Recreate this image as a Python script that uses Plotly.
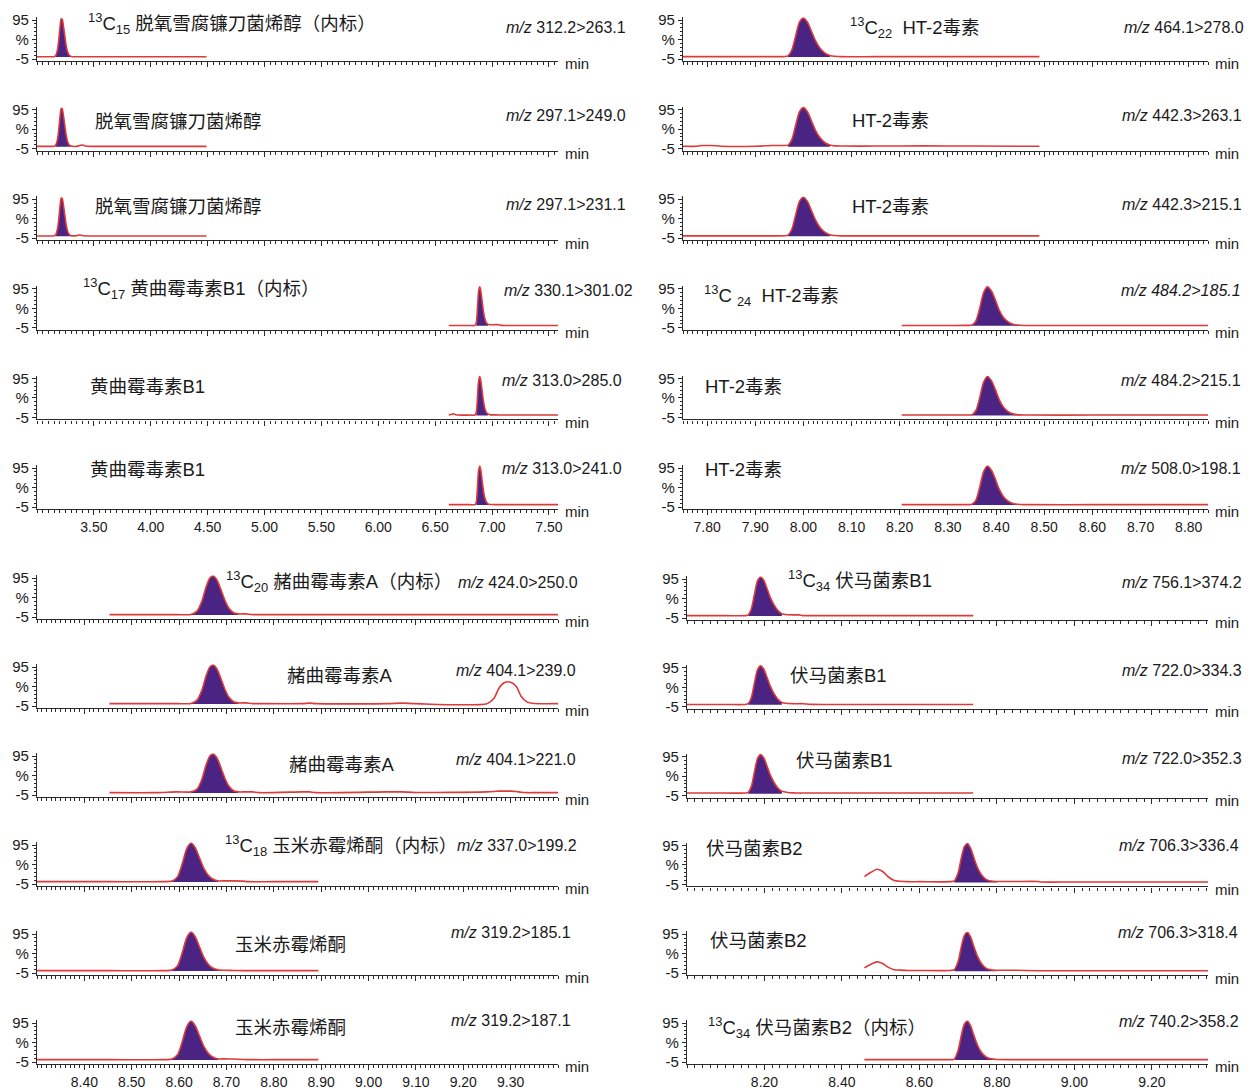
import plotly.graph_objects as go

# ======================= DATA =======================
# --- top-left, rows 1-3: DON ---
don_t = [3.00, 3.12, 3.15, 3.165, 3.18, 3.192, 3.203, 3.213, 3.222, 3.232, 3.244, 3.256, 3.268, 3.282, 3.30,
         3.35, 3.37, 3.39, 3.41, 3.43, 3.47, 3.80, 4.20, 4.49]
don_r1 = [0.8, 0.8, 1.0, 4, 18, 45, 78, 98, 97, 80, 55, 30, 14, 5, 1.5,
          0.8, 0.8, 0.8, 0.8, 0.8, 0.8, 0.8, 0.8, 0.8]
don_r2 = [0.8, 0.8, 1.0, 4, 18, 45, 78, 98, 97, 80, 55, 30, 14, 5, 1.5,
          0.8, 2.5, 4.0, 3.5, 1.5, 0.8, 0.8, 0.8, 0.8]
don_r3 = [0.8, 0.8, 1.0, 4, 18, 45, 78, 98, 97, 80, 55, 30, 14, 5, 1.5,
          1.5, 3.0, 2.5, 1.2, 0.8, 0.8, 0.8, 0.8, 0.8]
don_fill = [3.165, 3.30]

# --- top-left, rows 4-6: AFB1 ---
afb_t = [6.62, 6.64, 6.66, 6.68, 6.70, 6.80, 6.85, 6.862, 6.872, 6.882, 6.892, 6.90, 6.91, 6.922,
         6.935, 6.95, 6.965, 6.98, 7.02, 7.06, 7.08, 7.20, 7.40, 7.58]
afb_r4 = [1, 1, 1, 1, 1, 1, 1.2, 8, 45, 88, 100, 92, 70, 42, 20, 8, 4, 3, 3, 3, 1.2, 1, 1, 1]
afb_r5 = [1, 2.5, 4, 2, 1, 1, 1.2, 8, 45, 88, 100, 92, 70, 42, 20, 8, 4, 2, 1.5, 1.2, 1, 1, 1, 1]
afb_r6 = [1, 1, 1, 1, 1, 1, 1.2, 8, 45, 88, 100, 92, 70, 42, 20, 8, 3, 1.5, 1.2, 1, 1, 1, 1, 1]
afb_fill = [6.862, 6.965]

# --- top-right, rows 1-3: HT-2 ---
ht_t = [7.75, 7.78, 7.79, 7.80, 7.81, 7.83, 7.90, 7.935, 7.95, 7.96, 7.968, 7.976, 7.984, 7.992,
        8.000, 8.008, 8.016, 8.025, 8.035, 8.045, 8.055, 8.065, 8.08, 8.15, 8.25, 8.35, 8.49]
ht_r1 = [1, 1, 1, 1, 1, 1, 1, 1, 1, 1.2, 3, 18, 55, 90, 100, 90, 68, 42, 22, 10, 4, 2, 1, 1, 1, 1, 1]
ht_r2 = [1, 1, 3, 3, 3, 1, 1, 3, 3, 3, 4, 18, 55, 90, 100, 90, 68, 42, 22, 10, 4, 2, 1.5, 1.5, 2, 1.5, 1]
ht_r3 = [1, 1, 1, 1, 1, 1, 1, 1, 1, 1.2, 3, 18, 55, 90, 100, 90, 68, 42, 22, 10, 4, 2, 1, 1, 1, 1, 1]
ht_fill = [7.968, 8.055]

# --- top-right, rows 4-6: HT-2 adduct ---
hta_t = [8.204, 8.30, 8.34, 8.35, 8.358, 8.366, 8.374, 8.382, 8.39, 8.398, 8.406, 8.415, 8.425,
         8.435, 8.45, 8.47, 8.60, 8.84]
hta_r4 = [1, 1, 1.2, 2, 12, 45, 85, 100, 90, 68, 42, 22, 10, 4, 1.5, 1, 1, 1]
hta_r5 = [1, 1, 1.2, 2, 12, 45, 85, 100, 90, 68, 42, 22, 10, 4, 1.5, 1, 1, 1]
hta_r6 = [1, 1, 1.2, 2, 12, 45, 85, 100, 90, 68, 42, 22, 10, 4, 1.5, 1, 1, 1]
hta_fill = [8.35, 8.45]

# --- bottom-left, rows 1-3: OTA ---
ota_t = [8.453, 8.55, 8.595, 8.625, 8.638, 8.648, 8.657, 8.665, 8.672, 8.680, 8.688, 8.696, 8.705,
         8.715, 8.725, 8.74, 8.755, 8.77, 8.86, 8.875, 8.89, 9.04, 9.07, 9.10, 9.25, 9.265, 9.275,
         9.287, 9.30, 9.312, 9.322, 9.335, 9.35, 9.40]
ota_r1 = [1, 1, 1, 1.5, 10, 35, 72, 95, 100, 90, 66, 40, 18, 6, 3, 3, 1.2, 1, 1, 1, 1, 1, 1, 1,
          1, 1, 1, 1, 1, 1, 1, 1, 1, 1]
ota_r2 = [1, 1, 1, 1.5, 10, 35, 72, 95, 100, 90, 66, 40, 18, 6, 3, 3, 1.2, 1, 1, 2.5, 1, 1, 2.5, 1,
          1, 15, 40, 55, 56, 45, 20, 5, 1.5, 1]
ota_r3 = [1, 1, 3, 3, 10, 35, 72, 95, 100, 90, 66, 40, 18, 6, 3, 3, 3, 1, 3, 3, 1, 3, 3, 1.5,
          3, 4, 5, 5, 5, 4, 2, 1, 1, 1]
ota_fill = [8.625, 8.725]

# --- bottom-left, rows 4-6: ZEN ---
zen_t = [8.30, 8.45, 8.57, 8.585, 8.597, 8.607, 8.616, 8.625, 8.634, 8.643, 8.652, 8.662, 8.672,
         8.682, 8.695, 8.715, 8.735, 8.745, 8.80, 8.894]
zen_r4 = [1, 1, 1, 2.5, 14, 48, 85, 100, 88, 62, 36, 17, 7, 3, 3, 3, 2.5, 1, 1, 1]
zen_r5 = [1, 1, 1, 2.5, 14, 48, 85, 100, 88, 62, 36, 17, 7, 3, 2, 1.5, 1, 1, 1, 1]
zen_r6 = [1, 1, 1, 2.5, 14, 48, 85, 100, 88, 62, 36, 17, 7, 3, 3, 2.5, 1.5, 1, 1, 1]
zen_fill = [8.585, 8.682]

# --- bottom-right, rows 1-3: FB1 ---
fb1_t = [8.00, 8.10, 8.15, 8.158, 8.166, 8.174, 8.182, 8.19, 8.198, 8.206, 8.215, 8.225, 8.235,
         8.245, 8.26, 8.275, 8.288, 8.30, 8.32, 8.45, 8.60, 8.739]
fb1_r1 = [1, 1, 1, 3, 18, 55, 90, 100, 92, 72, 48, 28, 14, 6, 3.5, 3, 3, 1.2, 1, 1, 1, 1]
fb1_r2 = [1, 1, 1, 3, 18, 55, 90, 100, 92, 72, 48, 28, 14, 6, 3.5, 3, 3, 3, 1.2, 1, 1, 1]
fb1_r3 = [1.5, 1.5, 1.5, 3, 18, 55, 90, 100, 92, 72, 48, 28, 14, 6, 3, 2, 1.5, 1.5, 1.5, 1.5, 1.5, 1.5]
fb1_fill = [8.158, 8.245]

# --- bottom-right, rows 4-6: FB2 ---
fb2_t = [8.458, 8.475, 8.49, 8.505, 8.52, 8.535, 8.55, 8.57, 8.60, 8.68, 8.69, 8.70, 8.708, 8.716,
         8.724, 8.732, 8.741, 8.75, 8.76, 8.772, 8.785, 8.80, 8.85, 8.905, 8.915, 9.00, 9.345]
fb2_r4 = [15, 26, 34, 28, 14, 5, 3, 2, 2, 2, 4, 25, 62, 92, 100, 88, 62, 38, 20, 8, 3.5, 2.5, 2.5,
          2.5, 1.2, 1.2, 1.2]
fb2_r5 = [9, 18, 24, 20, 10, 4, 3, 2, 2, 2, 4, 25, 62, 92, 100, 88, 62, 38, 20, 8, 3.5, 2.5, 2.5,
          1.2, 1.2, 1.2, 1.2]
fb2_r6 = [1.2, 1.2, 1.2, 1.2, 1.2, 1.2, 1.2, 1.2, 1.2, 1.2, 2, 25, 62, 92, 100, 88, 62, 38, 20, 8,
          3, 1.5, 1.2, 1.2, 1.2, 1.2, 1.2]
fb2_fill = [8.69, 8.80]

# --- labels ---
tl_names = ["<sup>13</sup>C<sub>15</sub> 脱氧雪腐镰刀菌烯醇（内标）", "脱氧雪腐镰刀菌烯醇", "脱氧雪腐镰刀菌烯醇",
            "<sup>13</sup>C<sub>17</sub> 黄曲霉毒素B1（内标）", "黄曲霉毒素B1", "黄曲霉毒素B1"]
tl_mz = ["312.2&gt;263.1", "297.1&gt;249.0", "297.1&gt;231.1", "330.1&gt;301.02", "313.0&gt;285.0", "313.0&gt;241.0"]
tr_names = ["<sup>13</sup>C<sub>22</sub>  HT-2毒素", "HT-2毒素", "HT-2毒素",
            "<sup>13</sup>C <sub>24</sub>  HT-2毒素", "HT-2毒素", "HT-2毒素"]
tr_mz = ["464.1&gt;278.0", "442.3&gt;263.1", "442.3&gt;215.1", "484.2&gt;185.1", "484.2&gt;215.1", "508.0&gt;198.1"]
bl_names = ["<sup>13</sup>C<sub>20</sub> 赭曲霉毒素A（内标）", "赭曲霉毒素A", "赭曲霉毒素A",
            "<sup>13</sup>C<sub>18</sub> 玉米赤霉烯酮（内标）", "玉米赤霉烯酮", "玉米赤霉烯酮"]
bl_mz = ["424.0&gt;250.0", "404.1&gt;239.0", "404.1&gt;221.0", "337.0&gt;199.2", "319.2&gt;185.1", "319.2&gt;187.1"]
br_names = ["<sup>13</sup>C<sub>34</sub> 伏马菌素B1", "伏马菌素B1", "伏马菌素B1",
            "伏马菌素B2", "伏马菌素B2", "<sup>13</sup>C<sub>34</sub> 伏马菌素B2（内标）"]
br_mz = ["756.1&gt;374.2", "722.0&gt;334.3", "722.0&gt;352.3", "706.3&gt;336.4", "706.3&gt;318.4", "740.2&gt;358.2"]

tl_ticks = [3.5, 4.0, 4.5, 5.0, 5.5, 6.0, 6.5, 7.0, 7.5]
tl_ticklabels = ["3.50", "4.00", "4.50", "5.00", "5.50", "6.00", "6.50", "7.00", "7.50"]
tr_ticks = [7.8, 7.9, 8.0, 8.1, 8.2, 8.3, 8.4, 8.5, 8.6, 8.7, 8.8]
tr_ticklabels = ["7.80", "7.90", "8.00", "8.10", "8.20", "8.30", "8.40", "8.50", "8.60", "8.70", "8.80"]
bl_ticks = [8.4, 8.5, 8.6, 8.7, 8.8, 8.9, 9.0, 9.1, 9.2, 9.3]
bl_ticklabels = ["8.40", "8.50", "8.60", "8.70", "8.80", "8.90", "9.00", "9.10", "9.20", "9.30"]
br_ticks = [8.2, 8.4, 8.6, 8.8, 9.0, 9.2]
br_ticklabels = ["8.20", "8.40", "8.60", "8.80", "9.00", "9.20"]
y_ticks = [-5, 45, 95]
y_ticklabels = ["-5", "%", "95"]

# ======================= LAYOUT / STYLE =======================
W, H = 1254, 1090
PURPLE = "#4a2383"
RED = "#dd3a3a"
AX = "#2a2a2a"
TXT = "#1a1a1a"
LATIN = "Liberation Sans, Arial, Noto Sans CJK SC, sans-serif"


def px(x):
    return x / W


def py(y):
    return 1 - y / H


quads = {
    "TL": dict(x0=37, x1=558, xr=[3.0, 7.58], top95=20.0, step=89.6,
               ticks=tl_ticks, labels=tl_ticklabels, mdt=0.05, m0=3.0),
    "TR": dict(x0=683, x1=1208, xr=[7.75, 8.84], top95=20.0, step=89.6,
               ticks=tr_ticks, labels=tr_ticklabels, mdt=0.01, m0=7.75),
    "BL": dict(x0=37, x1=558, xr=[8.30, 9.40], top95=578.0, step=89.0,
               ticks=bl_ticks, labels=bl_ticklabels, mdt=0.01, m0=8.30),
    "BR": dict(x0=687, x1=1208, xr=[8.00, 9.345], top95=579.0, step=88.8,
               ticks=br_ticks, labels=br_ticklabels, mdt=0.02, m0=8.00),
}

series = {
    "TL": [(don_t, don_r1, don_fill), (don_t, don_r2, don_fill), (don_t, don_r3, don_fill),
           (afb_t, afb_r4, afb_fill), (afb_t, afb_r5, afb_fill), (afb_t, afb_r6, afb_fill)],
    "TR": [(ht_t, ht_r1, ht_fill), (ht_t, ht_r2, ht_fill), (ht_t, ht_r3, ht_fill),
           (hta_t, hta_r4, hta_fill), (hta_t, hta_r5, hta_fill), (hta_t, hta_r6, hta_fill)],
    "BL": [(ota_t, ota_r1, ota_fill), (ota_t, ota_r2, ota_fill), (ota_t, ota_r3, ota_fill),
           (zen_t, zen_r4, zen_fill), (zen_t, zen_r5, zen_fill), (zen_t, zen_r6, zen_fill)],
    "BR": [(fb1_t, fb1_r1, fb1_fill), (fb1_t, fb1_r2, fb1_fill), (fb1_t, fb1_r3, fb1_fill),
           (fb2_t, fb2_r4, fb2_fill), (fb2_t, fb2_r5, fb2_fill), (fb2_t, fb2_r6, fb2_fill)],
}
labels = {"TL": (tl_names, tl_mz), "TR": (tr_names, tr_mz), "BL": (bl_names, bl_mz), "BR": (br_names, br_mz)}

# label placement in pixels: (name_left_x, name_center_y, mz_right_x, mz_center_y)
label_pos = {
    "TL": [(86, 23, 628, 27), (93, 122, 628, 115), (93, 206, 628, 205),
           (81, 288, 635, 291), (88, 387, 624, 380), (88, 469, 624, 468)],
    "TR": [(848, 27, 1246, 27), (850, 121, 1244, 115), (850, 206, 1244, 205),
           (702, 295, 1243, 291), (703, 387, 1243, 380), (703, 469, 1243, 468)],
    "BL": [(224, 581, 580, 583), (285, 675, 578, 670), (287, 764, 578, 759),
           (223, 845, 579, 845), (233, 944, 573, 932), (233, 1027, 573, 1020)],
    "BR": [(786, 580, 1244, 583), (788, 675, 1244, 670), (794, 760, 1244, 758),
           (704, 848, 1241, 845), (708, 940, 1240, 932), (706, 1027, 1241, 1021)],
}

fig = go.Figure()
lay = {}
ann = []
UNIT = 0.39  # px per % unit
i = 0
for qk in ["TL", "TR", "BL", "BR"]:
    q = quads[qk]
    names, mzs = labels[qk]
    for r in range(6):
        i += 1
        t, v, (lo, hi) = series[qk][r]
        p95 = q["top95"] + r * q["step"]
        ytop = p95 - 7 * UNIT
        ybot = p95 + 105 * UNIT
        xs = "x" if i == 1 else f"x{i}"
        ys = "y" if i == 1 else f"y{i}"
        xa = "xaxis" if i == 1 else f"xaxis{i}"
        ya = "yaxis" if i == 1 else f"yaxis{i}"
        ft = [a for a in t if lo <= a <= hi]
        fv = [b for a, b in zip(t, v) if lo <= a <= hi]
        fig.add_trace(go.Scatter(x=ft, y=fv, xaxis=xs, yaxis=ys, mode="lines",
                                 line=dict(width=0, shape="spline", smoothing=0.7),
                                 fill="tozeroy", fillcolor=PURPLE, hoverinfo="skip", showlegend=False))
        fig.add_trace(go.Scatter(x=t, y=v, xaxis=xs, yaxis=ys, mode="lines",
                                 line=dict(color=RED, width=1.6, shape="spline", smoothing=0.7),
                                 hoverinfo="skip", showlegend=False))
        lay[xa] = dict(domain=[px(q["x0"]), px(q["x1"])], range=q["xr"], anchor=ys,
                       automargin=False,
                       showline=True, linecolor=AX, linewidth=1.3, ticks="outside", ticklen=5,
                       tickcolor=AX, tickwidth=1, tickmode="array", tickvals=q["ticks"],
                       ticktext=q["labels"], showticklabels=(r == 5), showgrid=False, zeroline=False,
                       tickfont=dict(family=LATIN, size=14, color=TXT),
                       minor=dict(ticks="outside", ticklen=3, tickcolor=AX, tickmode="linear",
                                  dtick=q["mdt"], tick0=q["m0"], showgrid=False))
        lay[ya] = dict(domain=[py(ybot), py(ytop)], range=[-10, 102], anchor=xs,
                       automargin=False,
                       showline=True, linecolor=AX, linewidth=1.3, ticks="outside", ticklen=4,
                       tickcolor=AX, tickmode="array", tickvals=y_ticks, ticktext=y_ticklabels,
                       showgrid=False, zeroline=False,
                       tickfont=dict(family=LATIN, size=15, color=TXT),
                       minor=dict(ticks="outside", ticklen=2, tickcolor=AX, tickmode="linear",
                                  dtick=10, tick0=-5, showgrid=False))
        nx, ny, mx, my = label_pos[qk][r]
        ann.append(dict(x=px(nx), y=py(ny), xref="paper", yref="paper", xanchor="left",
                        yanchor="middle", showarrow=False, text=names[r],
                        font=dict(family=LATIN, size=18.5, color=TXT)))
        mztext = "<i>m/z</i> " + mzs[r]
        if qk == "TR" and r == 3:
            mztext = "<i>m/z " + mzs[r] + "</i>"
        ann.append(dict(x=px(mx), y=py(my), xref="paper", yref="paper", xanchor="right",
                        yanchor="middle", showarrow=False, text=mztext,
                        font=dict(family=LATIN, size=16, color=TXT)))
        ann.append(dict(x=px(q["x1"] + 5), y=py(ybot + 3), xref="paper", yref="paper",
                        xanchor="left", yanchor="middle", showarrow=False, text="min",
                        font=dict(family=LATIN, size=15, color=TXT)))

fig.update_layout(width=W, height=H, margin=dict(l=0, r=0, t=0, b=0, pad=0, autoexpand=False),
                  paper_bgcolor="white", plot_bgcolor="white", annotations=ann, **lay)
fig.write_html("out.html")
